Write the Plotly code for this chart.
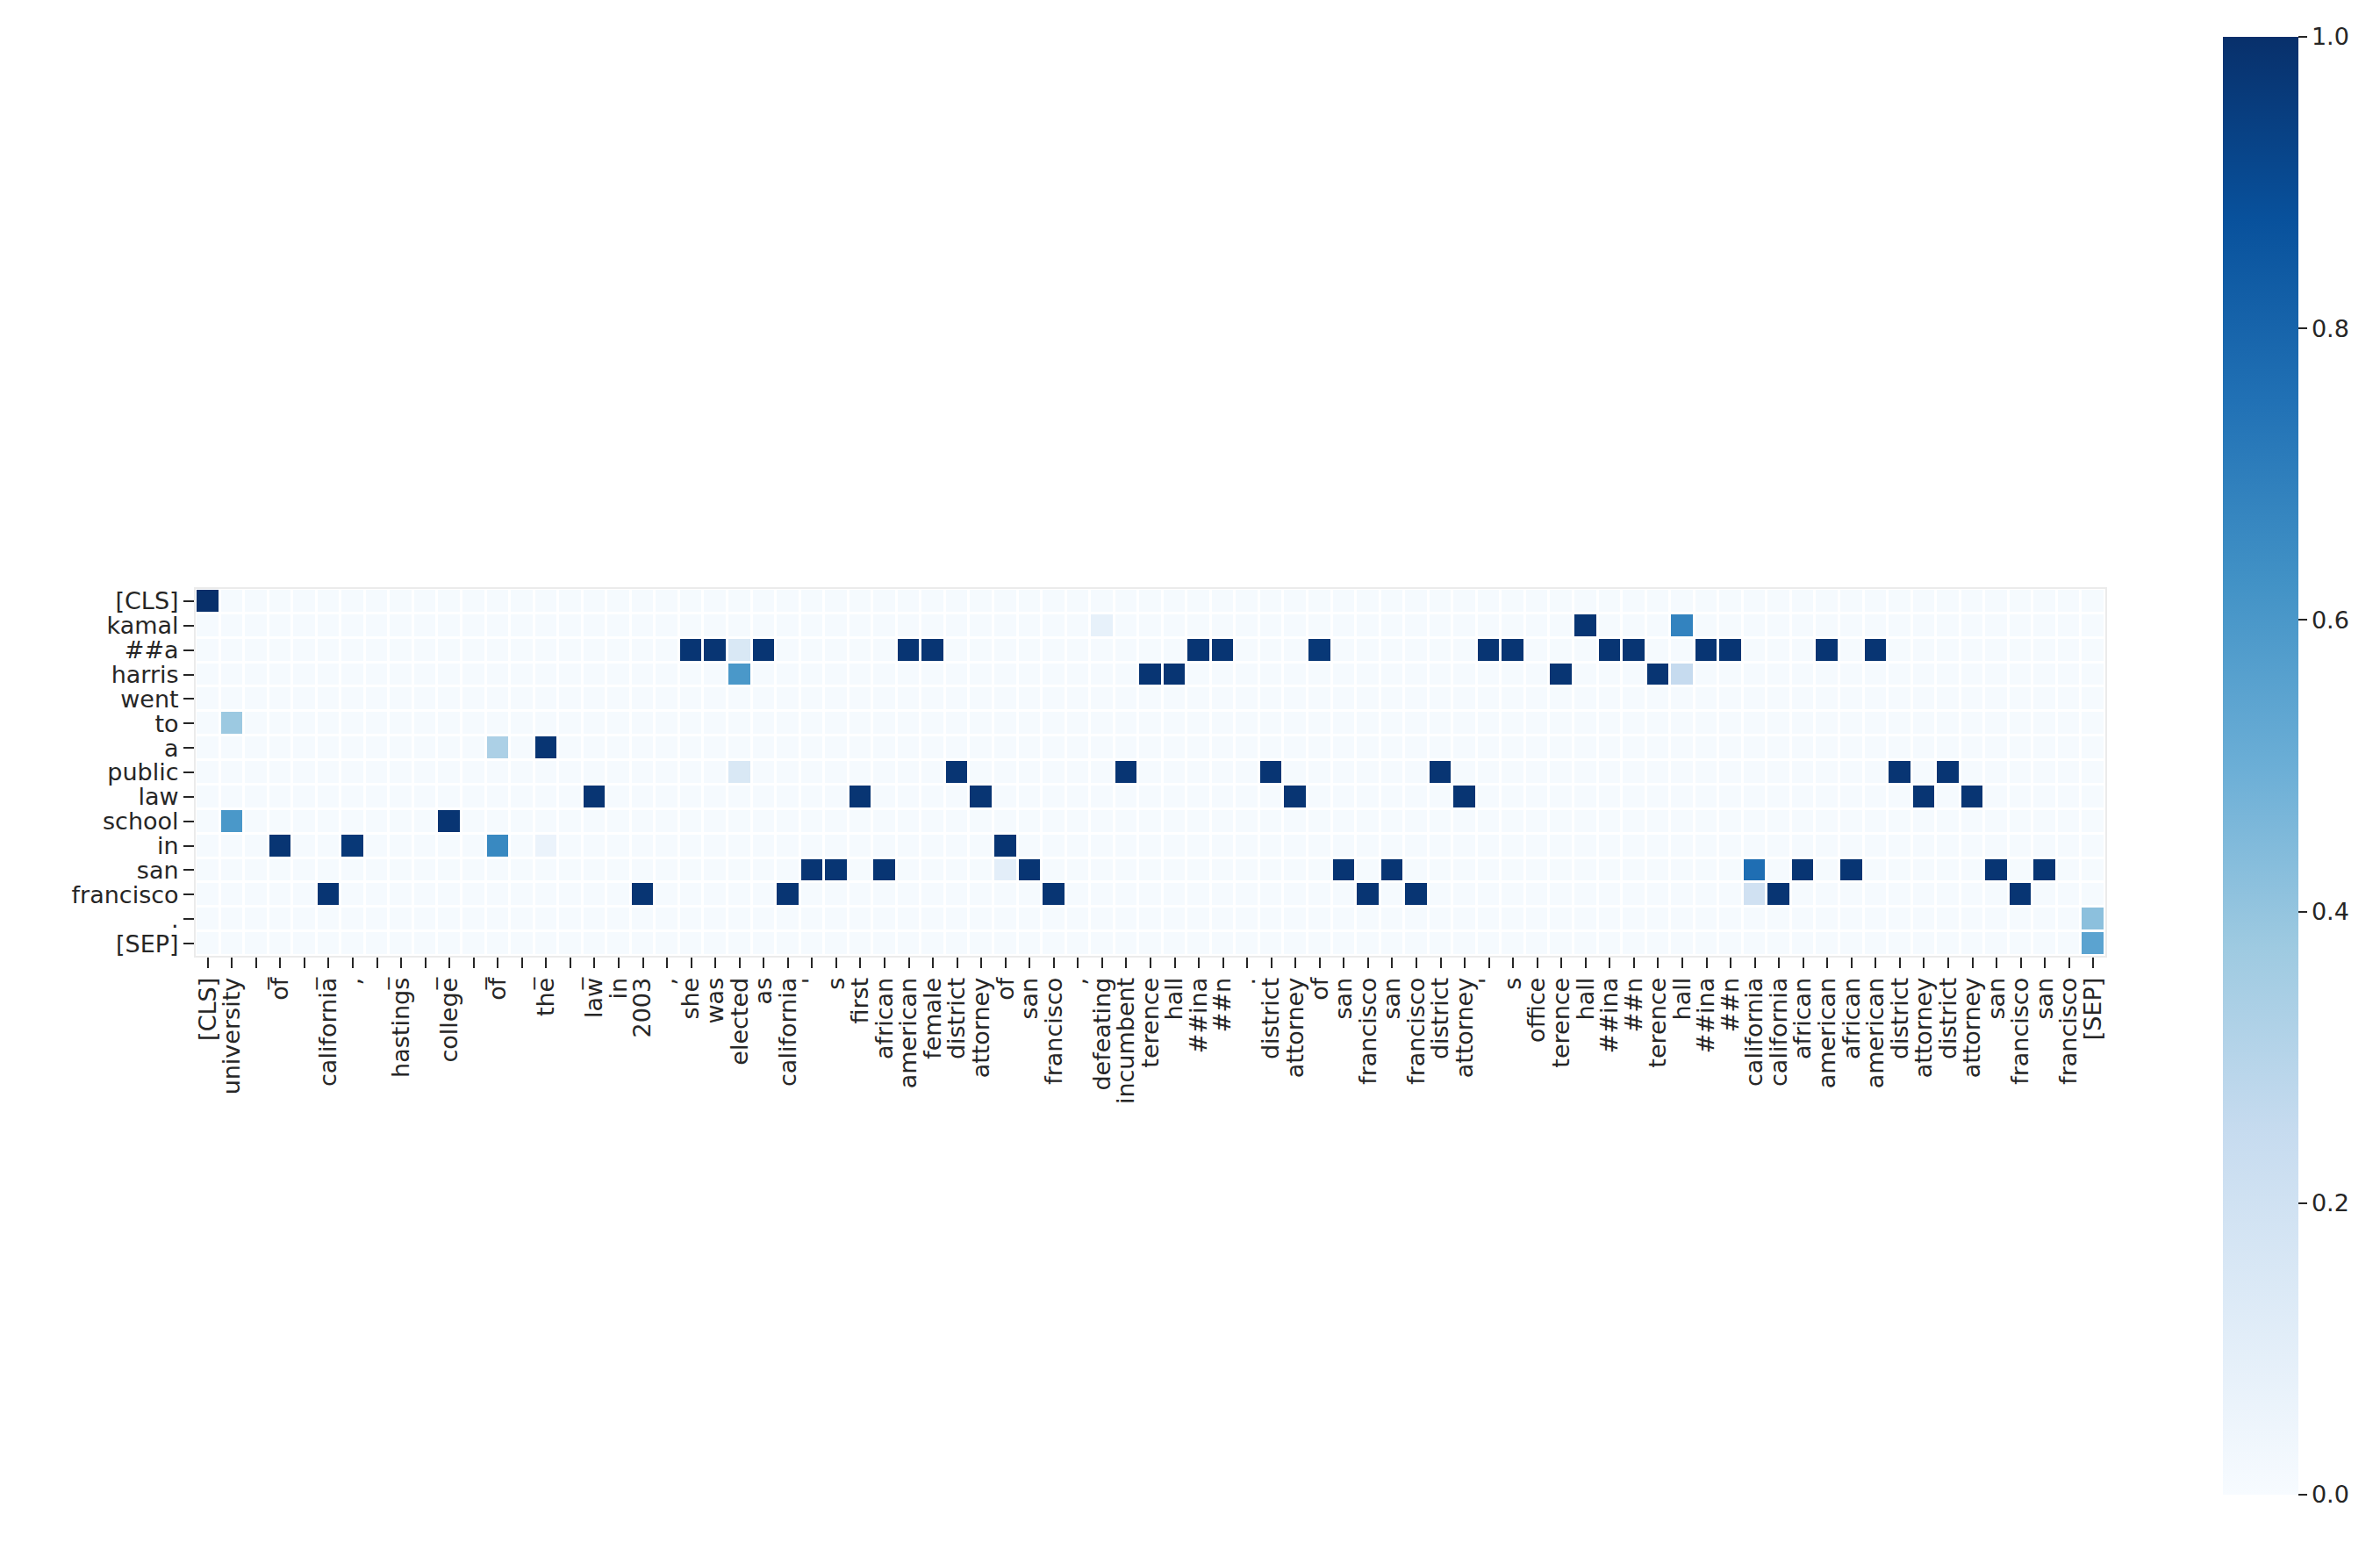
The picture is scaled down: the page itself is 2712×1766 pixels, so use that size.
import plotly.graph_objects as go

# Row tokens (query) and column tokens (evidence)
y_labels = ["[CLS]", "kamal", "##a", "harris", "went", "to", "a", "public", "law",
            "school", "in", "san", "francisco", ".", "[SEP]"]

x_labels = ["[CLS]", "university", "_", "of", "_", "california", ",", "_", "hastings", "_",
            "college", "_", "of", "_", "the", "_", "law", "in", "2003", ",",
            "she", "was", "elected", "as", "california", "'", "s", "first", "african", "american",
            "female", "district", "attorney", "of", "san", "francisco", ",", "defeating", "incumbent", "terence",
            "hall", "##ina", "##n", ".", "district", "attorney", "of", "san", "francisco", "san",
            "francisco", "district", "attorney", "'", "s", "office", "terence", "hall", "##ina", "##n",
            "terence", "hall", "##ina", "##n", "california", "california", "african", "american", "african", "american",
            "district", "attorney", "district", "attorney", "san", "francisco", "san", "francisco", "[SEP]"]

background_value = 0.01

# Non-background cells: row index, column index, attention weight
cell_rows = [0,
             1, 1, 1,
             2, 2, 2, 2, 2, 2, 2, 2, 2, 2, 2, 2, 2, 2, 2, 2, 2,
             3, 3, 3, 3, 3, 3,
             5,
             6, 6,
             7, 7, 7, 7, 7, 7, 7,
             8, 8, 8, 8, 8, 8, 8,
             9, 9,
             10, 10, 10, 10, 10,
             11, 11, 11, 11, 11, 11, 11, 11, 11, 11, 11, 11,
             12, 12, 12, 12, 12, 12, 12, 12, 12,
             13,
             14]
cell_cols = [0,
             37, 57, 61,
             20, 21, 22, 23, 29, 30, 41, 42, 46, 53, 54, 58, 59, 62, 63, 67, 69,
             22, 39, 40, 56, 60, 61,
             1,
             12, 14,
             22, 31, 38, 44, 51, 70, 72,
             16, 27, 32, 45, 52, 71, 73,
             1, 10,
             3, 6, 12, 14, 33,
             25, 26, 28, 33, 34, 47, 49, 64, 66, 68, 74, 76,
             5, 18, 24, 35, 48, 50, 64, 65, 75,
             78,
             78]
cell_vals = [1.0,
             0.08, 0.98, 0.68,
             0.98, 0.98, 0.15, 0.98, 0.98, 0.98, 0.98, 0.98, 0.97, 0.98, 0.98, 0.98, 0.98, 0.98, 0.98, 0.98, 0.98,
             0.6, 0.98, 0.98, 0.98, 0.98, 0.25,
             0.38,
             0.33, 0.98,
             0.15, 0.98, 0.98, 0.98, 0.98, 0.98, 0.98,
             0.98, 0.98, 0.98, 0.98, 0.98, 0.98, 0.98,
             0.6, 0.98,
             0.98, 0.97, 0.66, 0.06, 0.98,
             0.98, 0.98, 0.98, 0.1, 0.98, 0.98, 0.98, 0.76, 0.98, 0.98, 0.98, 0.98,
             0.98, 0.98, 0.98, 0.98, 0.98, 0.98, 0.2, 0.98, 0.98,
             0.42,
             0.55]

z = [[background_value for _ in x_labels] for _ in y_labels]
for r, c, v in zip(cell_rows, cell_cols, cell_vals):
    z[r][c] = v

blues = [[0.0, "#f7fbff"], [0.125, "#deebf7"], [0.25, "#c6dbef"], [0.375, "#9ecae1"],
         [0.5, "#6baed6"], [0.625, "#4292c6"], [0.75, "#2171b5"], [0.875, "#08519c"],
         [1.0, "#08306b"]]

cb_ticks = [0.0, 0.2, 0.4, 0.6, 0.8, 1.0]

W, H = 2712, 1766
font = dict(family="DejaVu Sans", size=27, color="#262626")

fig = go.Figure(go.Heatmap(
    z=z,
    x=list(range(len(x_labels))),
    y=list(range(len(y_labels))),
    colorscale=blues, zmin=0, zmax=1,
    xgap=3, ygap=3,
    colorbar=dict(
        x=2525 / W, xanchor="left", xpad=0,
        y=1 - 34 / H, yanchor="top", ypad=0,
        len=(1704 - 43) / H, lenmode="fraction",
        thickness=86, outlinewidth=0,
        tickvals=cb_ticks, ticktext=[f"{t:.1f}" for t in cb_ticks],
        ticks="outside", ticklen=10, tickwidth=2, tickcolor="#262626",
        tickfont=font,
    ),
))

fig.update_layout(
    width=W, height=H, autosize=False,
    margin=dict(l=0, r=0, t=0, b=0),
    paper_bgcolor="white", plot_bgcolor="white",
    font=font,
    xaxis=dict(
        domain=[215 / W, 2391 / W],
        range=[-0.5, len(x_labels) - 0.5],
        tickvals=list(range(len(x_labels))), ticktext=x_labels,
        tickangle=-90, ticks="outside", ticklen=12, tickwidth=2, tickcolor="#262626",
        tickfont=font, showgrid=False, zeroline=False,
        showline=True, linecolor="#ebebeb", linewidth=2, mirror=True, automargin=False,
    ),
    yaxis=dict(
        domain=[1 - 1081 / H, 1 - 663 / H],
        range=[len(y_labels) - 0.5, -0.5],
        tickvals=list(range(len(y_labels))), ticktext=y_labels,
        ticks="outside", ticklen=12, tickwidth=2, tickcolor="#262626",
        tickfont=font, showgrid=False, zeroline=False,
        showline=True, linecolor="#ebebeb", linewidth=2, mirror=True, automargin=False,
    ),
)

fig.write_html("out.html")
